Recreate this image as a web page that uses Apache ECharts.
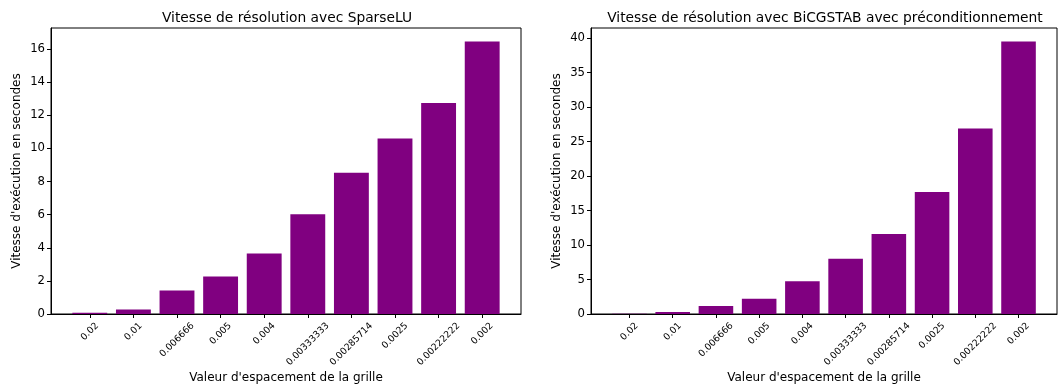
<!DOCTYPE html>
<html>
<head>
<meta charset="utf-8">
<script src="https://cdn.jsdelivr.net/npm/echarts@6/dist/echarts.min.js"></script>
<style>
  html, body { margin: 0; padding: 0; background: #fff; }
  #chart { width: 1058px; height: 389px; }
</style>
</head>
<body>
<div id="chart"></div>
<script>
// Grid spacing values (one bar per value)
const categories = ['0.02', '0.01', '0.006666', '0.005', '0.004', '0.00333333', '0.00285714', '0.0025', '0.00222222', '0.002'];
// Solve times in seconds
const sparseLUTimes = [0.08, 0.27, 1.42, 2.27, 3.65, 6.02, 8.53, 10.6, 12.75, 16.45];
const bicgstabTimes = [0.03, 0.3, 1.15, 2.2, 4.75, 8.0, 11.6, 17.7, 26.9, 39.5];
// Y tick labels
const sparseLUTicks = [0, 2, 4, 6, 8, 10, 12, 14, 16];
const bicgstabTicks = [0, 5, 10, 15, 20, 25, 30, 35, 40];

const FONT = 'DejaVu Sans';
const INK = '#000';
const BAR = '#800080';
const XLABEL_SIZE = 9.3;
const idx = categories.map((_, i) => i);
const pad = (categories.length - 1 + 0.8) * 0.05;
const xMin = -0.4 - pad;
const xMax = categories.length - 1 + 0.4 + pad;

function xAxis(gridIndex) {
  return {
    type: 'value', gridIndex, min: xMin, max: xMax,
    name: "Valeur d'espacement de la grille",
    nameLocation: 'middle', nameGap: 58,
    nameTextStyle: { fontFamily: FONT, fontSize: 12, color: INK },
    axisLine: { show: true, onZero: false, lineStyle: { color: INK, width: 1 } },
    axisTick: { show: true, customValues: idx, length: 4, lineStyle: { color: INK } },
    // rotated tick labels are drawn as graphic texts centred under each tick
    axisLabel: { show: false },
    splitLine: { show: false }
  };
}
function yAxis(gridIndex, ticks) {
  return {
    type: 'value', gridIndex, min: 0,
    max: e => e.max * 1.05,
    name: "Vitesse d'exécution en secondes",
    nameLocation: 'middle', nameGap: 28,
    nameTextStyle: { fontFamily: FONT, fontSize: 12, color: INK },
    axisLine: { show: true, onZero: false, lineStyle: { color: INK, width: 1 } },
    axisTick: { show: true, customValues: ticks, length: 4, lineStyle: { color: INK } },
    axisLabel: { customValues: ticks, margin: 6, fontFamily: FONT, fontSize: 11.7, color: INK },
    splitLine: { show: false }
  };
}
function barSeries(i, values) {
  return {
    type: 'bar', xAxisIndex: i, yAxisIndex: i,
    data: values.map((v, k) => [k, v]),
    barWidth: '80%',
    itemStyle: { color: BAR },
    silent: true
  };
}

const chart = echarts.init(document.getElementById('chart'), null, { renderer: 'canvas' });
chart.setOption({
  animation: false,
  backgroundColor: '#fff',
  title: [
    { text: 'Vitesse de résolution avec SparseLU', left: 282, top: 6, textAlign: 'center',
      textStyle: { fontFamily: FONT, fontSize: 13.8, fontWeight: 'normal', color: INK } },
    { text: 'Vitesse de résolution avec BiCGSTAB avec préconditionnement', left: 820, top: 6, textAlign: 'center',
      textStyle: { fontFamily: FONT, fontSize: 13.8, fontWeight: 'normal', color: INK } }
  ],
  grid: [
    { left: 51, right: 537, top: 28, bottom: 75, show: true, borderColor: INK, borderWidth: 1, backgroundColor: 'transparent' },
    { left: 591, right: 1, top: 28, bottom: 75, show: true, borderColor: INK, borderWidth: 1, backgroundColor: 'transparent' }
  ],
  xAxis: [xAxis(0), xAxis(1)],
  yAxis: [yAxis(0, sparseLUTicks), yAxis(1, bicgstabTicks)],
  series: [barSeries(0, sparseLUTimes), barSeries(1, bicgstabTimes)]
});

// 45° tick labels: the rotated box is centred on its tick, its top a few px below the axis
const ctx = document.createElement('canvas').getContext('2d');
ctx.font = XLABEL_SIZE + 'px "' + FONT + '"';
const labelGap = 7;
const texts = [];
[0, 1].forEach(g => {
  categories.forEach((cat, i) => {
    const p = chart.convertToPixel({ xAxisIndex: g, yAxisIndex: g }, [i, 0]);
    const L = ctx.measureText(cat).width;
    const half = (L + XLABEL_SIZE) / (2 * Math.SQRT2);
    texts.push({
      type: 'text', x: p[0], y: p[1] + labelGap + half, rotation: Math.PI / 4, silent: true,
      style: { text: cat, font: XLABEL_SIZE + 'px "' + FONT + '"', fill: INK, align: 'center', verticalAlign: 'middle' }
    });
  });
});
chart.setOption({ graphic: texts });
</script>
</body>
</html>
